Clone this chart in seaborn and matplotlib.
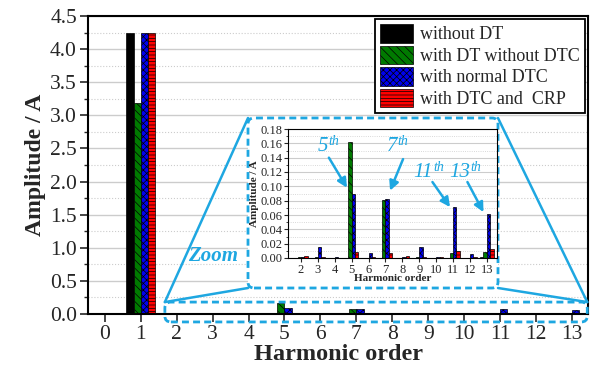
import numpy as np
import pandas as pd
import matplotlib
matplotlib.use('Agg')
import matplotlib.pyplot as plt
import seaborn as sns
from matplotlib.patches import FancyBboxPatch, Rectangle
from matplotlib.lines import Line2D
from matplotlib.ticker import MultipleLocator

# harmonic spectrum of the current
harmonics = list(range(14))
series = ['without DT', 'with DT without DTC', 'with normal DTC', 'with DTC and  CRP']
without_dt = [0, 4.25, 0, 0, 0, 0, 0, 0, 0, 0, 0, 0, 0, 0.001]
with_dt = [0, 3.18, 0.001, 0.001, 0, 0.162, 0, 0.081, 0, 0.001, 0, 0.007, 0, 0.008]
normal_dtc = [0, 4.25, 0.001, 0.015, 0.001, 0.090, 0.007, 0.082, 0.002, 0.015, 0.002, 0.071, 0.006, 0.061]
dtc_crp = [0, 4.25, 0.003, 0.001, 0, 0.008, 0.002, 0.007, 0.003, 0.001, 0.002, 0.010, 0.002, 0.012]

colors = ['#000000', '#007a00', '#0000ee', '#ff0000']
hatches = ['', '\\\\\\\\', 'xxxxx', '-----']
cyan = '#1ea7e1'

# inset notes: label, text (harmonic, amp), arrow start, arrow tip
notes = [('5', (3.6, 0.155), (3.65, 0.140), (4.72, 0.098)),
         ('7', (7.68, 0.155), (8.04, 0.138), (7.27, 0.094)),
         ('11', (9.81, 0.119), (9.78, 0.106), (10.82, 0.071)),
         ('13', (12.0, 0.119), (11.85, 0.106), (12.8, 0.064))]

df = pd.DataFrame({'harmonic': harmonics, series[0]: without_dt, series[1]: with_dt,
                   series[2]: normal_dtc, series[3]: dtc_crp})
df = df.melt(id_vars='harmonic', var_name='case', value_name='amp')

sns.set_style('ticks')
plt.rcParams['font.family'] = ['Liberation Serif', 'DejaVu Serif']
plt.rcParams['hatch.linewidth'] = 0.5

W, H = 594, 375
fig = plt.figure(figsize=(W / 100, H / 100), dpi=100)


def style_bars(ax):
    for cont, h in zip(ax.containers, hatches):
        for bar in cont:
            bar.set_hatch(h)
            bar.set_edgecolor('black')
            bar.set_linewidth(0.5)


def frame(ax, lw):
    for s in ax.spines.values():
        s.set_visible(True)
        s.set_linewidth(lw)
        s.set_color('black')


# main axes
ax = fig.add_axes([88 / W, 1 - 314 / H, 500 / W, 298 / H], zorder=0)
sns.barplot(data=df, x='harmonic', y='amp', hue='case', hue_order=series,
            palette=colors, errorbar=None, saturation=1, legend=False, ax=ax)
style_bars(ax)
ax.set_xlim(-0.47, 13.45)
ax.set_ylim(0, 4.5)
ax.yaxis.set_major_locator(MultipleLocator(0.5))
ax.yaxis.set_minor_locator(MultipleLocator(0.25))
ax.yaxis.set_major_formatter('{x:.1f}')
ax.set_axisbelow(True)
ax.grid(axis='y', which='major', color='#cccccc', lw=1.0, ls='-')
ax.grid(axis='y', which='minor', color='#cccccc', lw=0.8, ls=':')
ax.tick_params(axis='both', which='major', direction='out', length=6, width=1.2,
               labelsize=15.5, pad=2)
ax.tick_params(axis='y', which='minor', direction='out', length=3, width=1.0)
ax.set_xlabel('Harmonic order', fontsize=17.5, fontweight='bold', labelpad=0)
ax.set_ylabel('Amplitude / A', fontsize=17, fontweight='bold', labelpad=3)
frame(ax, 1.5)

handles = [Rectangle((0, 0), 1, 1, facecolor=c, edgecolor='black', hatch=h, lw=0.5)
           for c, h in zip(colors, hatches)]
leg = ax.legend(handles, series, loc='upper right', fontsize=13, fancybox=False,
                edgecolor='black', framealpha=1, borderaxespad=0.15,
                handlelength=1.8, handleheight=1.2, labelspacing=0.12,
                handletextpad=0.4, borderpad=0.3)
leg.get_frame().set_linewidth(1.3)

# inset axes
ax_in = fig.add_axes([288 / W, 1 - 258 / H, 209 / W, 129 / H], zorder=3)
sub = df[df['harmonic'] >= 2]
sns.barplot(data=sub, x='harmonic', y='amp', hue='case', hue_order=series,
            order=harmonics[2:], palette=colors, errorbar=None, saturation=1,
            legend=False, ax=ax_in)
style_bars(ax_in)
ax_in.set_xlim(-0.77, 11.6)
ax_in.set_ylim(0, 0.18)
ax_in.yaxis.set_major_locator(MultipleLocator(0.02))
ax_in.yaxis.set_minor_locator(MultipleLocator(0.01))
ax_in.yaxis.set_major_formatter('{x:.2f}')
ax_in.set_axisbelow(True)
ax_in.grid(axis='y', which='major', color='#cccccc', lw=0.8, ls='-')
ax_in.grid(axis='y', which='minor', color='#cccccc', lw=0.6, ls=':')
ax_in.tick_params(axis='both', which='major', direction='out', length=3, width=0.8,
                  labelsize=9, pad=1)
ax_in.tick_params(axis='y', which='minor', direction='out', length=1.5, width=0.6)
ax_in.set_xlabel('Harmonic order', fontsize=8, fontweight='bold', labelpad=-1)
ax_in.set_ylabel('Amplitude / A', fontsize=8, fontweight='bold', labelpad=1)
frame(ax_in, 0.8)

# categorical positions start at harmonic 2
for lab, (tx, ty), (sx, sy), (px, py) in notes:
    ax_in.annotate('', xy=(px - 2, py), xytext=(sx - 2, sy),
                   arrowprops=dict(arrowstyle='-|>', color=cyan, lw=1.8,
                                   mutation_scale=14, shrinkA=0, shrinkB=0))
    ax_in.text(tx - 2, ty, lab, color=cyan, fontsize=15, fontstyle='italic',
               ha='right', va='center')
    ax_in.annotate('th', xy=(tx - 2, ty), xytext=(0.3, 4), textcoords='offset points',
                   color=cyan, fontsize=10, fontstyle='italic', ha='left', va='center')

# zoom boxes and connectors, drawn in inches
to_in = fig.dpi_scale_trans.inverted()
zx0, zy0 = to_in.transform(ax.transData.transform((1.67, -0.12)))
zx1, zy1 = to_in.transform(ax.transData.transform((13.43, 0.18)))
ix0, iy0 = 248 / 100, (H - 288) / 100
ix1, iy1 = 498 / 100, (H - 118) / 100

box_kw = dict(transform=fig.dpi_scale_trans, edgecolor=cyan, lw=2,
              linestyle=(0, (2.5, 1.5)))
fig.patches.append(FancyBboxPatch((zx0, zy0), zx1 - zx0, zy1 - zy0,
                                  boxstyle='round,pad=0,rounding_size=0.06',
                                  facecolor='none', zorder=2, **box_kw))
fig.patches.append(FancyBboxPatch((ix0, iy0), ix1 - ix0, iy1 - iy0,
                                  boxstyle='round,pad=0,rounding_size=0.06',
                                  facecolor='white', zorder=2, **box_kw))
for xa, xb in [(zx0, ix0), (zx1, ix1)]:
    for yb in (iy0, iy1):
        fig.lines.append(Line2D([xa, xb], [zy1, yb], transform=fig.dpi_scale_trans,
                                color=cyan, lw=1.8, zorder=2))

fig.text(213 / W, 1 - 256 / H, 'Zoom', color=cyan, fontsize=15, fontweight='bold',
         fontstyle='italic', ha='center', va='center')

fig.savefig('out.png', dpi=100)
